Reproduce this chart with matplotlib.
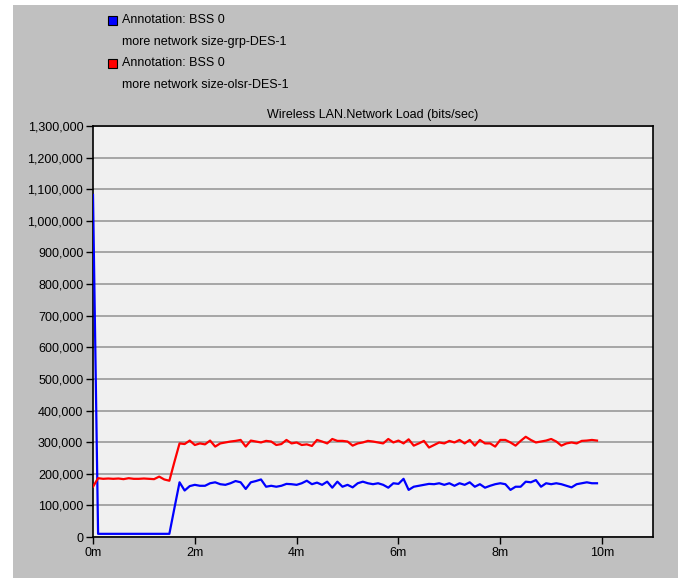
import numpy as np
import matplotlib
matplotlib.use("Agg")
from matplotlib import pyplot as plt
from matplotlib.patches import Rectangle
from matplotlib.ticker import FuncFormatter

matplotlib.rcParams.update({
    "font.family": ["Liberation Sans", "DejaVu Sans"],
    "font.size": 9,
})

# sample times in minutes (one sample every 0.1 min)
time_min = np.round(np.arange(0, 10.0, 0.1), 1)

# network load in thousands of bits/sec
load_grp = [1082, 10, 10, 10, 10, 10, 10, 10, 10, 10,
            10, 10, 10, 10, 10, 10, 92, 173, 147, 161,
            165, 162, 162, 170, 173, 167, 165, 170, 177, 173,
            152, 173, 177, 182, 159, 162, 159, 162, 168, 167,
            165, 170, 178, 167, 172, 165, 175, 156, 175, 159,
            165, 157, 170, 175, 170, 167, 170, 165, 156, 170,
            168, 184, 149, 159, 162, 165, 168, 167, 170, 165,
            170, 162, 170, 165, 173, 159, 167, 156, 162, 167,
            170, 167, 149, 159, 159, 175, 173, 180, 159, 170,
            167, 170, 167, 162, 157, 167, 170, 173, 170, 170]
load_olsr = [159, 186, 184, 185, 184, 185, 183, 186, 184, 184,
             185, 184, 183, 191, 182, 178, 238, 296, 294, 305,
             291, 296, 293, 305, 286, 296, 299, 302, 304, 307,
             286, 305, 302, 299, 304, 302, 291, 294, 307, 296,
             299, 291, 293, 288, 307, 302, 296, 310, 304, 304,
             302, 289, 296, 299, 304, 302, 299, 296, 310, 299,
             305, 296, 309, 289, 296, 304, 283, 291, 299, 296,
             304, 299, 307, 296, 307, 289, 307, 296, 296, 286,
             307, 307, 299, 289, 304, 317, 307, 299, 302, 305,
             310, 302, 289, 296, 299, 296, 304, 305, 307, 305]

series_names = ["more network size-grp-DES-1", "more network size-olsr-DES-1"]
series_colors = ["#0000ff", "#ff0000"]
x_ticks = [0, 2, 4, 6, 8, 10]
y_ticks = np.arange(0, 1300001, 100000)

fig = plt.figure(figsize=(6.83, 5.83), dpi=100)
fig.patch.set_facecolor("white")
bg = Rectangle((13 / 683, 5 / 583), 665 / 683, 573 / 583,
               transform=fig.transFigure, facecolor="#c0c0c0",
               edgecolor="none", zorder=-10)
fig.add_artist(bg)

ax = fig.add_axes([93 / 683, 46 / 583, 560 / 683, 411 / 583])
ax.set_facecolor("#f0f0f0")

for vals, col in zip([load_grp, load_olsr], series_colors):
    ax.plot(time_min, np.array(vals) * 1000, color=col, linewidth=1.6, zorder=3)

ax.set_xlim(0, 11)
ax.set_ylim(0, 1300000)
ax.set_xticks(x_ticks)
ax.set_xticklabels([f"{t}m" for t in x_ticks])
ax.set_yticks(y_ticks)
ax.yaxis.set_major_formatter(FuncFormatter(lambda v, p: f"{int(v):,}"))
ax.grid(axis="y", color="#a0a0a0", linewidth=1.3, zorder=1)
ax.set_axisbelow(True)
ax.tick_params(direction="out", length=5, width=1, color="black", pad=2, labelsize=9)
for s in ax.spines.values():
    s.set_color("black")
    s.set_linewidth(1.2)

ax.set_title("Wireless LAN.Network Load (bits/sec)", fontsize=9, pad=6)

# legend block at top
line_y = [20, 42, 63, 85]
for i, (name, col) in enumerate(zip(series_names, series_colors)):
    y1 = line_y[2 * i]
    fig.add_artist(Rectangle((108 / 683, 1 - (y1 + 5) / 583), 9 / 683, 9 / 583,
                             transform=fig.transFigure, facecolor=col,
                             edgecolor="black", linewidth=0.8, zorder=2))
    fig.text(122 / 683, 1 - y1 / 583, "Annotation: BSS 0", va="center", ha="left", fontsize=9)
    fig.text(122 / 683, 1 - line_y[2 * i + 1] / 583, name, va="center", ha="left", fontsize=9)

fig.savefig("out.png", dpi=100)
